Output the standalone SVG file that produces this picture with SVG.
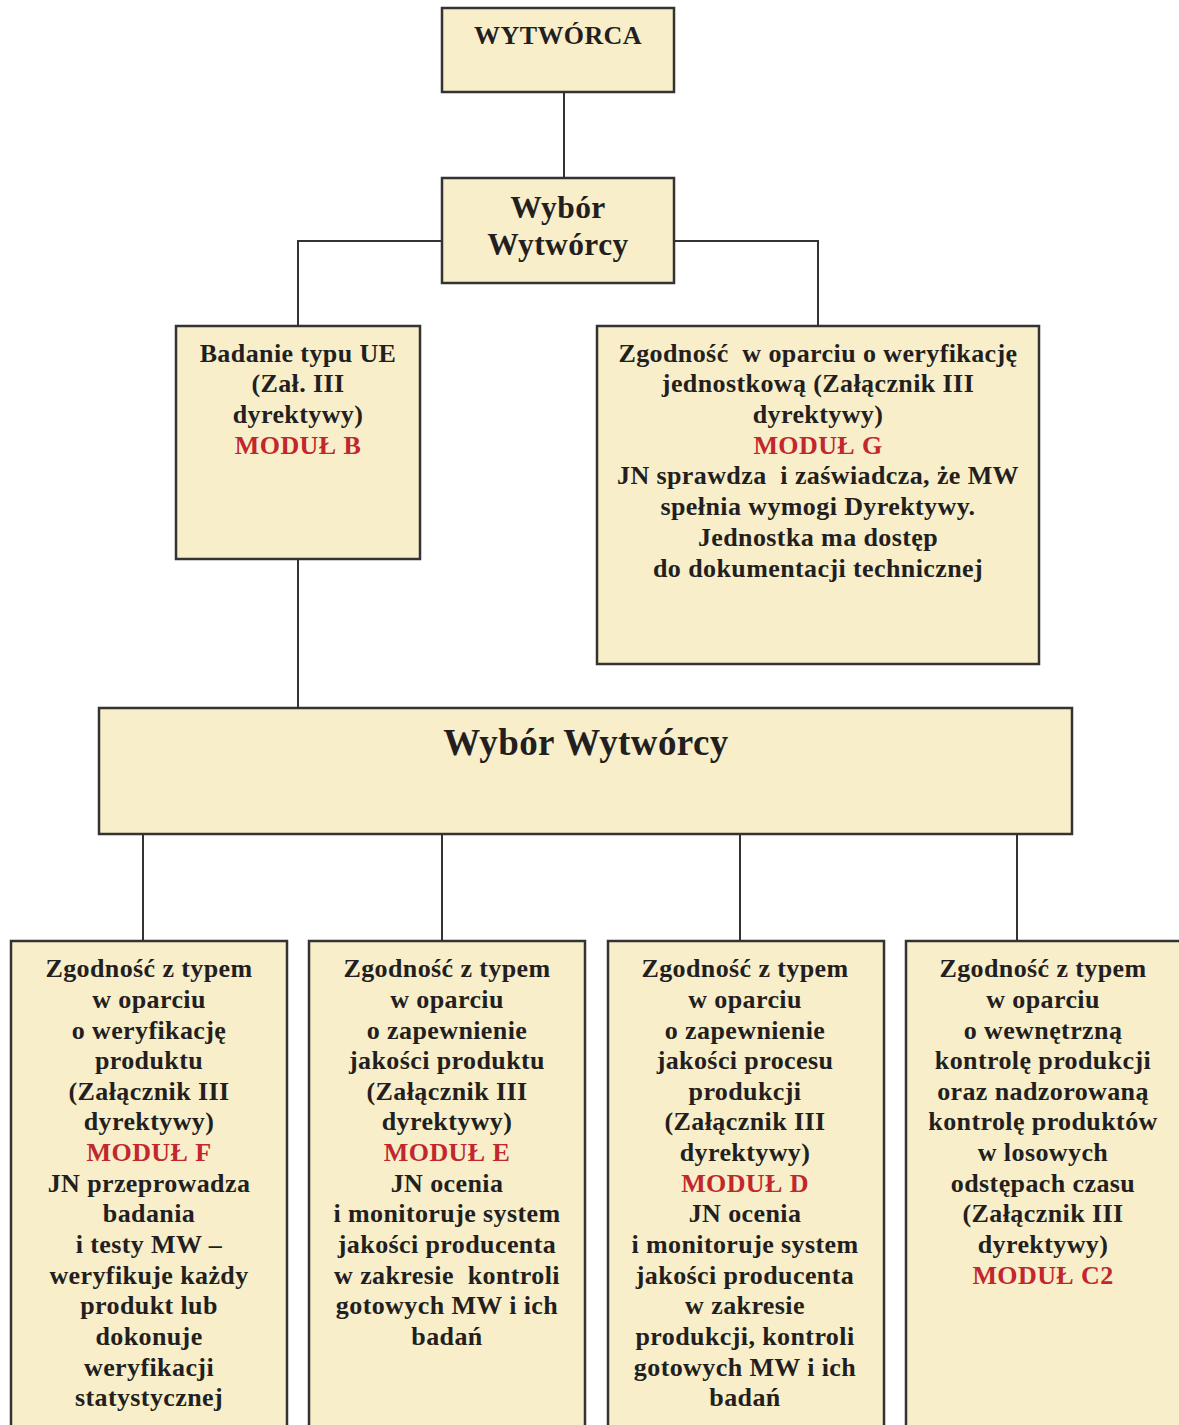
<svg xmlns="http://www.w3.org/2000/svg" width="1179" height="1425" viewBox="0 0 1179 1425">
<style>
.box{fill:#F8EECA;stroke:#333333;stroke-width:2.5}
.t{font-family:"Liberation Serif","Times New Roman",serif;font-weight:bold;font-size:26px;letter-spacing:0.4px;fill:#231F20;text-anchor:middle}
.r{fill:#C1272D}
.c{stroke:#333333;stroke-width:2;fill:none}
</style>
<rect width="1179" height="1425" fill="#ffffff"/>
<g id="connectors">
<path class="c" d="M564 92V178"/>
<path class="c" d="M442 241H298V326"/>
<path class="c" d="M674 241H818V326"/>
<path class="c" d="M298 559V708"/>
<path class="c" d="M143 834V941"/>
<path class="c" d="M442 834V941"/>
<path class="c" d="M740 834V941"/>
<path class="c" d="M1017 834V941"/>
</g>
<g id="wytworca">
<rect class="box" x="442" y="8" width="232" height="84"/>
<text class="t" x="558" y="44">WYTWÓRCA</text>
</g>
<g id="wybor1">
<rect class="box" x="442" y="178" width="232" height="105"/>
<text class="t" style="font-size:31.5px"><tspan x="558" y="218">Wybór</tspan><tspan x="558" y="255">Wytwórcy</tspan></text>
</g>
<g id="modulB">
<rect class="box" x="176" y="326" width="244" height="233"/>
<text class="t"><tspan x="298" y="362">Badanie typu UE</tspan><tspan x="298" y="392">(Zał. III</tspan><tspan x="298" y="423">dyrektywy)</tspan><tspan x="298" y="454" class="r">MODUŁ B</tspan></text>
</g>
<g id="modulG">
<rect class="box" x="597" y="326" width="442" height="338"/>
<text class="t" xml:space="preserve"><tspan x="818" y="362">Zgodność  w oparciu o weryfikację</tspan><tspan x="818" y="392">jednostkową (Załącznik III</tspan><tspan x="818" y="423">dyrektywy)</tspan><tspan x="818" y="454" class="r">MODUŁ G</tspan><tspan x="818" y="484">JN sprawdza  i zaświadcza, że MW</tspan><tspan x="818" y="515">spełnia wymogi Dyrektywy.</tspan><tspan x="818" y="546">Jednostka ma dostęp</tspan><tspan x="818" y="577">do dokumentacji technicznej</tspan></text>
</g>
<g id="wybor2">
<rect class="box" x="99" y="708" width="973" height="126"/>
<text class="t" x="586" y="755" style="font-size:37px">Wybór Wytwórcy</text>
</g>
<g id="modulF">
<rect class="box" x="11" y="941" width="276" height="500"/>
<text class="t"><tspan x="149" y="977">Zgodność z typem</tspan><tspan x="149" y="1008">w oparciu</tspan><tspan x="149" y="1039">o weryfikację</tspan><tspan x="149" y="1069">produktu</tspan><tspan x="149" y="1100">(Załącznik III</tspan><tspan x="149" y="1130">dyrektywy)</tspan><tspan x="149" y="1161" class="r">MODUŁ F</tspan><tspan x="149" y="1192">JN przeprowadza</tspan><tspan x="149" y="1222">badania</tspan><tspan x="149" y="1253">i testy MW –</tspan><tspan x="149" y="1284">weryfikuje każdy</tspan><tspan x="149" y="1314">produkt lub</tspan><tspan x="149" y="1345">dokonuje</tspan><tspan x="149" y="1376">weryfikacji</tspan><tspan x="149" y="1406">statystycznej</tspan></text>
</g>
<g id="modulE">
<rect class="box" x="309" y="941" width="276" height="500"/>
<text class="t" xml:space="preserve"><tspan x="447" y="977">Zgodność z typem</tspan><tspan x="447" y="1008">w oparciu</tspan><tspan x="447" y="1039">o zapewnienie</tspan><tspan x="447" y="1069">jakości produktu</tspan><tspan x="447" y="1100">(Załącznik III</tspan><tspan x="447" y="1130">dyrektywy)</tspan><tspan x="447" y="1161" class="r">MODUŁ E</tspan><tspan x="447" y="1192">JN ocenia</tspan><tspan x="447" y="1222">i monitoruje system</tspan><tspan x="447" y="1253">jakości producenta</tspan><tspan x="447" y="1284">w zakresie  kontroli</tspan><tspan x="447" y="1314">gotowych MW i ich</tspan><tspan x="447" y="1345">badań</tspan></text>
</g>
<g id="modulD">
<rect class="box" x="608" y="941" width="276" height="500"/>
<text class="t"><tspan x="745" y="977">Zgodność z typem</tspan><tspan x="745" y="1008">w oparciu</tspan><tspan x="745" y="1039">o zapewnienie</tspan><tspan x="745" y="1069">jakości procesu</tspan><tspan x="745" y="1100">produkcji</tspan><tspan x="745" y="1130">(Załącznik III</tspan><tspan x="745" y="1161">dyrektywy)</tspan><tspan x="745" y="1192" class="r">MODUŁ D</tspan><tspan x="745" y="1222">JN ocenia</tspan><tspan x="745" y="1253">i monitoruje system</tspan><tspan x="745" y="1284">jakości producenta</tspan><tspan x="745" y="1314">w zakresie</tspan><tspan x="745" y="1345">produkcji, kontroli</tspan><tspan x="745" y="1376">gotowych MW i ich</tspan><tspan x="745" y="1406">badań</tspan></text>
</g>
<g id="modulC2">
<rect class="box" x="906" y="941" width="290" height="500"/>
<text class="t"><tspan x="1043" y="977">Zgodność z typem</tspan><tspan x="1043" y="1008">w oparciu</tspan><tspan x="1043" y="1039">o wewnętrzną</tspan><tspan x="1043" y="1069">kontrolę produkcji</tspan><tspan x="1043" y="1100">oraz nadzorowaną</tspan><tspan x="1043" y="1130">kontrolę produktów</tspan><tspan x="1043" y="1161">w losowych</tspan><tspan x="1043" y="1192">odstępach czasu</tspan><tspan x="1043" y="1222">(Załącznik III</tspan><tspan x="1043" y="1253">dyrektywy)</tspan><tspan x="1043" y="1284" class="r">MODUŁ C2</tspan></text>
</g>
</svg>
